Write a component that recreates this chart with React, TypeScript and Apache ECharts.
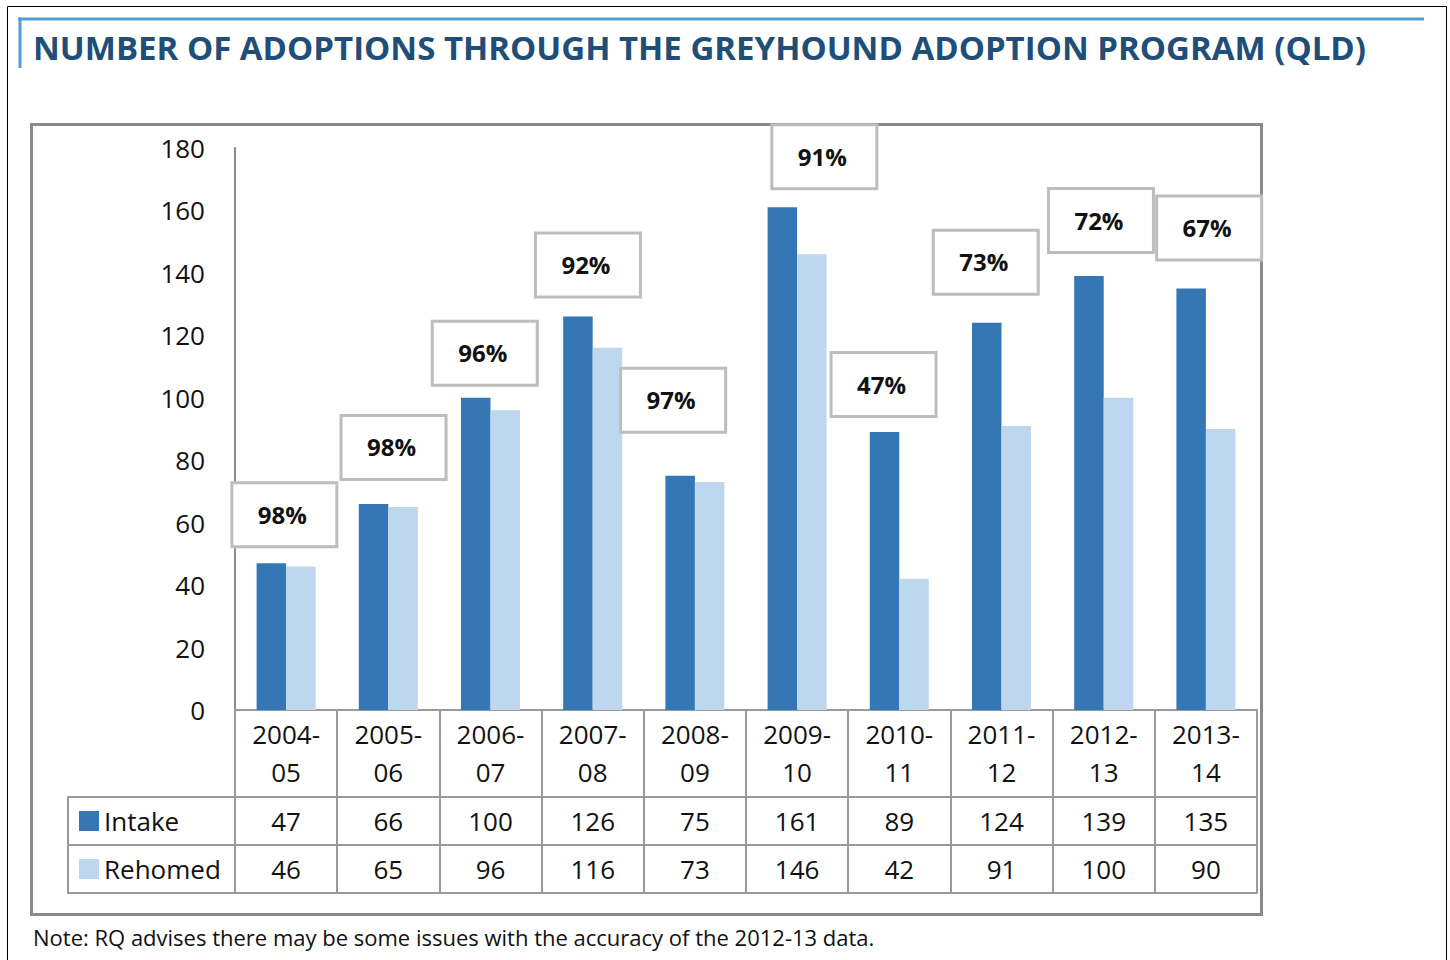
import React, { useEffect, useRef } from "react";
import * as echarts from "echarts";

const categories = ["2004-05", "2005-06", "2006-07", "2007-08", "2008-09", "2009-10", "2010-11", "2011-12", "2012-13", "2013-14"];
const intake = [47, 66, 100, 126, 75, 161, 89, 124, 139, 135];
const rehomed = [46, 65, 96, 116, 73, 146, 42, 91, 100, 90];
const rehomedRate = ["98%", "98%", "96%", "92%", "97%", "91%", "47%", "73%", "72%", "67%"];
const seriesNames = ["Intake", "Rehomed"];
const yMin = 0;
const yMax = 180;
const yStep = 20;

const titleText = "NUMBER OF ADOPTIONS THROUGH THE GREYHOUND ADOPTION PROGRAM (QLD)";
const noteText = "Note: RQ advises there may be some issues with the accuracy of the 2012-13 data.";

// label box placement (style only)
const rateLabelOffsets = [
  [13, -18], [20, -26], [9, -14], [10, -21], [-7, -45],
  [42, -20], [-1, -17], [-1, -30], [12, -25], [18, -30],
];

const FONT = "'Open Sans', 'Noto Sans', sans-serif";
const GRID_LEFT = 235;
const GRID_RIGHT_X = 1257;
const GRID_TOP = 148;
const GRID_BOTTOM_Y = 710;
const LINE = "#9a9a9a";

export default function App() {
  const ref = useRef<HTMLDivElement>(null);
  useEffect(() => {
    if (!ref.current) return;
    const chart = echarts.init(ref.current, null, { renderer: "svg" });
    const tableAxisBase = {
      type: "category" as const,
      gridIndex: 0,
      position: "bottom" as const,
      axisLine: { show: true, lineStyle: { color: LINE, width: 2 } },
      axisTick: { show: false },
      splitLine: { show: false },
    };
    const option: any = {
      animation: false,
      backgroundColor: "#fff",
      title: {
        text: titleText,
        left: 33,
        top: 27,
        padding: 0,
        textStyle: {
          fontFamily: FONT,
          fontWeight: "bold",
          fontSize: 33,
          lineHeight: 40,
          color: "#1F4E79",
        },
      },
      legend: {
        data: seriesNames,
        orient: "vertical",
        left: 79,
        top: 806,
        padding: 0,
        itemGap: 18,
        itemWidth: 20,
        itemHeight: 20,
        icon: "rect",
        textStyle: { fontFamily: FONT, fontSize: 26, lineHeight: 30, color: "#111" },
      },
      grid: {
        left: GRID_LEFT,
        right: 1450 - GRID_RIGHT_X,
        top: GRID_TOP,
        bottom: 960 - GRID_BOTTOM_Y,
        containLabel: false,
      },
      xAxis: [
        {
          ...tableAxisBase,
          data: categories,
          axisTick: { show: true, interval: 0, length: 183, lineStyle: { color: LINE, width: 2 } },
          axisLabel: {
            interval: 0,
            margin: 5,
            fontFamily: FONT,
            fontSize: 26,
            lineHeight: 38,
            color: "#111",
            formatter: (v: string) => v.replace("-", "-\n"),
          },
        },
        {
          ...tableAxisBase,
          offset: 87,
          data: intake.map(String),
          axisLabel: { interval: 0, margin: 9, fontFamily: FONT, fontSize: 26, lineHeight: 30, color: "#111" },
        },
        {
          ...tableAxisBase,
          offset: 135,
          data: rehomed.map(String),
          axisLabel: { interval: 0, margin: 9, fontFamily: FONT, fontSize: 26, lineHeight: 30, color: "#111" },
        },
        {
          ...tableAxisBase,
          offset: 183,
          data: categories,
          axisLabel: { show: false },
        },
      ],
      yAxis: {
        type: "value",
        min: yMin,
        max: yMax,
        interval: yStep,
        axisLine: { show: true, lineStyle: { color: "#8c8c8c", width: 2 } },
        axisTick: { show: false },
        splitLine: { show: false },
        axisLabel: { margin: 30, fontFamily: FONT, fontSize: 26, color: "#111" },
      },
      series: [
        {
          name: seriesNames[0],
          type: "bar",
          xAxisIndex: 0,
          barWidth: 29.5,
          barGap: "0%",
          itemStyle: { color: "#3576B5" },
          data: intake.map((v, i) => ({ value: v, label: { offset: rateLabelOffsets[i] } })),
          label: {
            show: true,
            position: "top",
            distance: 0,
            formatter: (p: any) => rehomedRate[p.dataIndex],
            fontFamily: FONT,
            fontWeight: "bold",
            fontSize: 24,
            lineHeight: 24,
            color: "#111",
            backgroundColor: "#fff",
            borderColor: "#BDBDBD",
            borderWidth: 3,
            padding: [18, 28, 19, 24],
            width: 50,
            align: "center",
          },
        },
        {
          name: seriesNames[1],
          type: "bar",
          xAxisIndex: 0,
          barWidth: 29.5,
          barGap: "0%",
          itemStyle: { color: "#BDD7EE" },
          data: rehomed,
        },
      ],
      graphic: [
        {
          type: "rect",
          z: -1,
          shape: { x: 7.5, y: 6.5, width: 1439, height: 1000 },
          style: { fill: "none", stroke: "#000", lineWidth: 1 },
        },
        {
          type: "line",
          shape: { x1: 18, y1: 19, x2: 1424, y2: 19 },
          style: { stroke: "#5B9BD5", lineWidth: 3 },
        },
        {
          type: "line",
          shape: { x1: 20, y1: 17.5, x2: 20, y2: 68 },
          style: { stroke: "#5B9BD5", lineWidth: 3 },
        },
        {
          type: "rect",
          z: 0,
          shape: { x: 31.5, y: 124.5, width: 1230, height: 790 },
          style: { fill: "none", stroke: "#8a8a8a", lineWidth: 3 },
        },
        { type: "line", shape: { x1: 68, y1: 797, x2: GRID_LEFT, y2: 797 }, style: { stroke: LINE, lineWidth: 2 } },
        { type: "line", shape: { x1: 68, y1: 845, x2: GRID_LEFT, y2: 845 }, style: { stroke: LINE, lineWidth: 2 } },
        { type: "line", shape: { x1: 68, y1: 893, x2: GRID_LEFT, y2: 893 }, style: { stroke: LINE, lineWidth: 2 } },
        { type: "line", shape: { x1: 68, y1: 796, x2: 68, y2: 894 }, style: { stroke: LINE, lineWidth: 2 } },
        {
          type: "text",
          x: 33,
          y: 937,
          style: {
            text: noteText,
            fontFamily: FONT,
            fontSize: 22,
            fill: "#111",
            verticalAlign: "middle",
          },
        },
      ],
    };
    chart.setOption(option);
    return () => chart.dispose();
  }, []);
  return (
    <div
      ref={ref}
      style={{ position: "fixed", left: 0, top: 0, width: 1450, height: 960, background: "#fff" }}
    />
  );
}
